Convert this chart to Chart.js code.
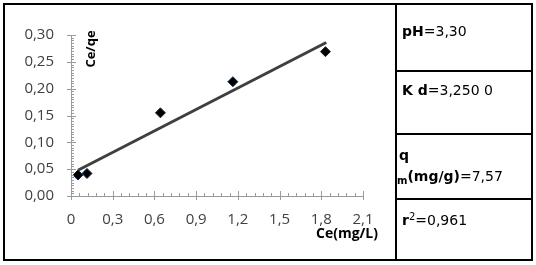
<!DOCTYPE html>
<html>
<head>
<meta charset="utf-8">
<script src="https://cdn.jsdelivr.net/npm/chart.js@4/dist/chart.umd.min.js"></script>
<style>
  body { margin: 0; width: 536px; height: 265px; background: #fff; overflow: hidden; position: relative; }
  #chartBox { position: absolute; left: 0; top: 0; width: 396px; height: 265px; }
  .frame { position: absolute; border: 2px solid #000; box-sizing: border-box; }
  .hline { position: absolute; left: 396px; width: 136px; height: 2px; background: #000; }
  .vline { position: absolute; top: 3px; width: 2px; height: 257px; background: #000; }
  .cell { position: absolute; left: 402px; font-family: "DejaVu Sans", sans-serif; font-size: 14px; line-height: 16px; color: #000; white-space: nowrap; }
  .cell b { font-weight: bold; }
  .sub { font-size: 10px; vertical-align: -3px; }
  .sup { font-size: 10px; vertical-align: 5px; }
</style>
</head>
<body>
<div id="chartBox"><canvas id="chart" width="396" height="265"></canvas></div>
<div class="frame" style="left:3px;top:3px;width:530px;height:258px;"></div>
<div class="vline" style="left:395px;"></div>
<div class="hline" style="top:70px;"></div>
<div class="hline" style="top:133px;"></div>
<div class="hline" style="top:198px;"></div>
<div class="cell" style="top:23px;"><b>pH</b>=3,30</div>
<div class="cell" style="top:82px;"><b>K d</b>=3,250 0</div>
<div class="cell" style="top:147px;left:399px;"><b>q</b></div>
<div class="cell" style="top:168px;left:397px;"><b><span class="sub">m</span>(mg/g)</b>=7,57</div>
<div class="cell" style="top:209px;"><b>r</b><span class="sup">2</span>=0,961</div>
<script>
// Langmuir plot values
const ceValues = [0.05, 0.115, 0.643, 1.164, 1.83];
const ceQeValues = [0.039, 0.042, 0.155, 0.213, 0.269];
// end points of the fitted line
const fitCe = [0.05, 1.836];
const fitCeQe = [0.048, 0.286];
const xTickLabels = ["0", "0,3", "0,6", "0,9", "1,2", "1,5", "1,8", "2,1"];
const yTickLabels = ["0,00", "0,05", "0,10", "0,15", "0,20", "0,25", "0,30"];

const axisGray = "#9a9a9a";
const labelGray = "#404040";

// tick marks that cross the axes, plus minor ticks
const tickMarks = {
  id: "tickMarks",
  afterDraw(chart) {
    const ctx = chart.ctx;
    const xs = chart.scales.x, ys = chart.scales.y;
    const ax = ys.right, ay = xs.top;
    ctx.save();
    ctx.strokeStyle = axisGray;
    ctx.lineWidth = 1;
    ctx.beginPath();
    for (let i = 0; i <= 35; i++) {
      const px = Math.round(xs.getPixelForValue(i * 0.06)) + 0.5;
      if (i % 5 === 0) { ctx.moveTo(px, ay - 5); ctx.lineTo(px, ay + 4); }
      else { ctx.moveTo(px, ay - 3); ctx.lineTo(px, ay); }
    }
    for (let j = 0; j <= 60; j++) {
      const py = Math.round(ys.getPixelForValue(j * 0.005)) + 0.5;
      if (j % 10 === 0) { ctx.moveTo(ax - 4, py); ctx.lineTo(ax + 5, py); }
      else { ctx.moveTo(ax, py); ctx.lineTo(ax + 3, py); }
    }
    ctx.stroke();

    ctx.fillStyle = "#000";
    ctx.font = 'bold 13px "Open Sans"';
    ctx.textAlign = "center";
    ctx.textBaseline = "middle";
    ctx.save();
    ctx.translate(ax + 20, 49);
    ctx.rotate(-Math.PI / 2);
    ctx.fillText("Ce/qe", 0, 0);
    ctx.restore();
    ctx.font = 'bold 14px "Open Sans"';
    ctx.fillText("Ce(mg/L)", 347, 234);
    ctx.restore();
  }
};

new Chart(document.getElementById("chart"), {
  type: "scatter",
  data: {
    datasets: [
      {
        data: ceValues.map((v, i) => ({ x: v, y: ceQeValues[i] })),
        pointStyle: "rectRot",
        pointRadius: 5,
        backgroundColor: "#000",
        borderColor: "#0d2b4d",
        borderWidth: 1
      },
      {
        type: "line",
        data: fitCe.map((v, i) => ({ x: v, y: fitCeQe[i] })),
        borderColor: "#3f3f3f",
        borderWidth: 3,
        pointRadius: 0,
        fill: false
      }
    ]
  },
  options: {
    responsive: false,
    animation: false,
    layout: { padding: { left: 0, top: 35, right: 33, bottom: 0 } },
    plugins: { legend: { display: false }, tooltip: { enabled: false } },
    scales: {
      x: {
        type: "linear",
        min: 0,
        max: 2.1,
        afterFit(scale) { scale.height = 69; },
        grid: { display: false, drawTicks: false },
        border: { display: true, color: axisGray, width: 1 },
        ticks: {
          stepSize: 0.3,
          padding: 15,
          color: labelGray,
          font: { family: "Open Sans", size: 15 },
          callback: (v, i) => xTickLabels[i]
        }
      },
      y: {
        type: "linear",
        min: 0,
        max: 0.3,
        afterFit(scale) { scale.width = 71; },
        grid: { display: false, drawTicks: false },
        border: { display: true, color: axisGray, width: 1 },
        ticks: {
          stepSize: 0.05,
          padding: 17,
          color: labelGray,
          font: { family: "Open Sans", size: 15 },
          callback: (v, i) => yTickLabels[i]
        }
      }
    }
  },
  plugins: [tickMarks]
});
</script>
</body>
</html>
